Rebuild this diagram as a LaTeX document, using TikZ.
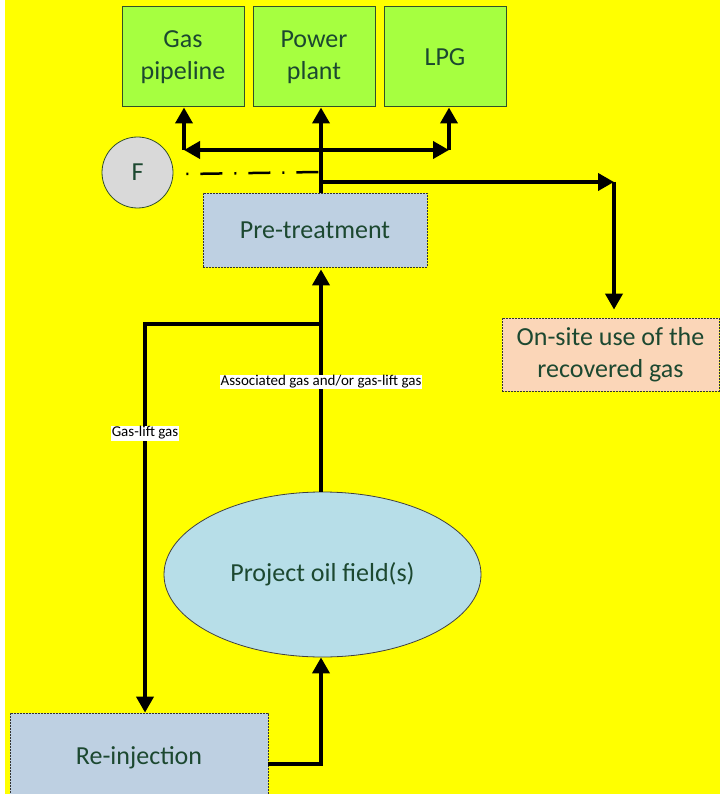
\documentclass[tikz,border=0pt]{standalone}
\usepackage{fontspec}
\setmainfont{Carlito}
\usetikzlibrary{arrows.meta,shapes.geometric}
\definecolor{bgyellow}{RGB}{255,255,0}
\definecolor{limegreen}{RGB}{166,255,64}
\definecolor{greenedge}{RGB}{50,80,40}
\definecolor{boxblue}{RGB}{190,208,226}
\definecolor{peach}{RGB}{251,214,184}
\definecolor{lightcyan}{RGB}{183,222,232}
\definecolor{circgrey}{RGB}{217,217,217}
\definecolor{txtgreen}{RGB}{28,72,48}
\begin{document}
\begin{tikzpicture}[x=1pt,y=-1pt,
  txt/.style={text=txtgreen, font=\fontsize{26}{32}\selectfont, align=center},
  dest/.style={txt, draw=greenedge, line width=1pt, fill=limegreen, minimum width=122pt, minimum height=100pt, inner sep=0pt},
  procbox/.style={txt, draw=black!80, dash pattern=on 2pt off 1pt, line width=0.8pt, inner sep=0pt},
  flow/.style={line width=3.8pt, -{Triangle[length=16pt,width=17pt]}},
  bothflow/.style={line width=3.8pt, {Triangle[length=16pt,width=17pt]}-{Triangle[length=16pt,width=17pt]}},
  lbl/.style={fill=white, text=black, font=\fontsize{15}{17}\selectfont, inner sep=1pt},
]
\useasboundingbox (0,0) rectangle (720,794);
\clip (0,0) rectangle (720,794);
\fill[white] (0,0) rectangle (720,794);
\fill[bgyellow] (5,0) rectangle (720,794);

% destination boxes
\node[dest] (gp) at (183,57) {Gas\\pipeline};
\node[dest] (pp) at (314,57) {Power\\plant};
\node[dest] (lpg) at (445,57) {LPG};

% process boxes
\node[procbox, fill=boxblue, minimum width=224pt, minimum height=74pt] (pt) at (315,230) {Pre-treatment};
\node[procbox, fill=peach, minimum width=217pt, minimum height=73pt] (os) at (610.5,354.5) {On-site use of the\\recovered gas};
\node[txt, ellipse, draw=black!75, line width=0.8pt, fill=lightcyan, minimum width=317pt, minimum height=165pt, inner sep=0pt] (oil) at (322.5,574.5) {Project oil field(s)};
\node[procbox, fill=boxblue, minimum width=258pt, minimum height=90pt] (ri) at (139,758) {Re-injection};
\node[txt, circle, draw=greenedge, line width=0.8pt, fill=circgrey, minimum size=71pt, inner sep=0pt] (F) at (137.5,172.5) {F};

% helper coordinates
\coordinate (xm) at (321,0);
\coordinate (jl) at (184,150);
\coordinate (jr) at (449,150);
\coordinate (br) at (321,182);
\coordinate (corner) at (614,182);
\coordinate (dd) at (319,172);
\coordinate (gs) at (321,324);
\coordinate (gc) at (145,324);
\coordinate (rb) at (321,764);

% top distribution
\draw[flow] (jl) -- (jl |- gp.south);
\draw[flow] (jr) -- (jr |- lpg.south);
\draw[bothflow] (jl) -- (jr);
\draw[flow] (xm |- pt.north) -- (xm |- pp.south);

% flare dash-dot
\draw[line width=2.5pt, dash pattern=on 2pt off 12pt on 22pt off 12pt] ([xshift=13pt,yshift=-1.5pt]F.east) -- (dd);

% on-site branch
\draw[flow] (br) -- (corner);
\draw[flow, shorten >=8pt] (corner) -- (corner |- os.north);

% oil field to pre-treatment
\draw[flow, shorten >=2pt] (xm |- oil.north) -- (xm |- pt.south);

% gas-lift
\draw[flow] (gs) -- (gc) -- (gc |- ri.north);

% re-injection back to field
\draw[flow] ([yshift=-6pt]ri.east) -- (rb) -- (xm |- oil.south);

% labels
\node[lbl] (l1) at (321,382) {Associated gas and/or gas-lift gas};
\node[lbl] (l2) at (145,433) {Gas-lift gas};
\end{tikzpicture}
\end{document}
